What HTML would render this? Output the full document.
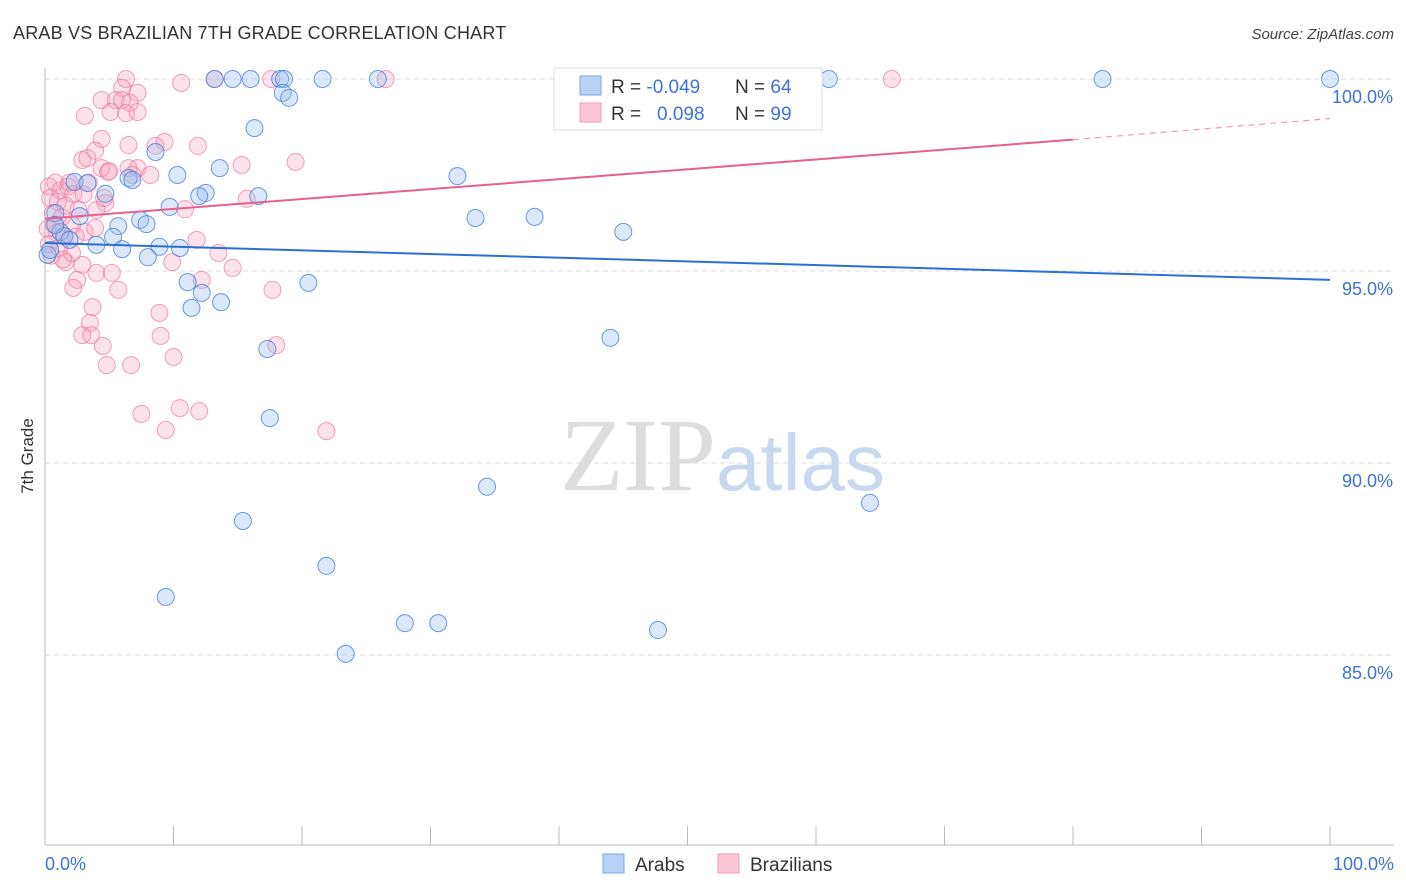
<!DOCTYPE html>
<html><head><meta charset="utf-8"><style>
body{margin:0;background:#fff;font-family:"Liberation Sans",sans-serif;}
</style></head><body>
<svg id="chart" width="1406" height="892" xmlns="http://www.w3.org/2000/svg" style="display:block">
<text x="13" y="39" font-size="18" fill="#333" letter-spacing="0.2">ARAB VS BRAZILIAN 7TH GRADE CORRELATION CHART</text>
<text x="1394" y="39" font-size="15" fill="#444" text-anchor="end" font-style="italic">Source: ZipAtlas.com</text>
<text x="716" y="490" font-size="104" text-anchor="end" fill="#ddd" font-family="Liberation Serif,serif">ZIP</text>
<text x="716" y="490" font-size="80" fill="#c8d8ee">atlas</text>
<text transform="translate(33,456) rotate(-90)" font-size="17" fill="#333" text-anchor="middle">7th Grade</text>
<g id="grid"></g><g id="axes"></g><g id="pts"></g><g id="lines"></g>
<g>
<rect x="554" y="68" width="268" height="62" fill="#fff" stroke="#ddd"/>
<rect x="580" y="76" width="21" height="19" fill="#b8d2f5" stroke="#7aa7e6"/>
<rect x="580" y="103" width="21" height="19" fill="#fcc8d8" stroke="#f09ab5"/>
<text x="611" y="93" font-size="19" fill="#333">R = <tspan fill="#3b74d6">-0.049</tspan></text>
<text x="735" y="93" font-size="19" fill="#333">N = <tspan fill="#3b74d6">64</tspan></text>
<text x="611" y="120" font-size="19" fill="#333">R = <tspan fill="#3b74d6" x="657">0.098</tspan></text>
<text x="735" y="120" font-size="19" fill="#333">N = <tspan fill="#3b74d6">99</tspan></text>
</g>
<g>
<rect x="603" y="854" width="21" height="19" fill="#b8d2f5" stroke="#7aa7e6"/>
<text x="635" y="871" font-size="19" fill="#333">Arabs</text>
<rect x="718" y="854" width="21" height="19" fill="#fcc8d8" stroke="#f09ab5"/>
<text x="750" y="871" font-size="19" fill="#333">Brazilians</text>
</g>
</svg>
<script>
const yTicks=[100,95,90,85];
const xTickLabels=["0.0%","100.0%"];
const arabX=[13.2,14.6,16.0,18.3,18.6,21.6,25.9,47.1,61.0,82.3,100,18.5,19.0,16.3,8.6,13.6,10.3,32.1,2.3,3.3,6.5,6.8,4.7,12.5,12.0,16.6,9.7,33.5,38.1,0.8,2.7,7.4,5.7,7.9,45.0,1.2,1.5,5.3,4.0,6.0,8.9,10.5,8.0,0.2,11.1,20.5,12.2,13.7,11.4,17.3,44.0,17.5,34.4,64.2,15.4,21.9,9.4,28.0,30.6,47.7,23.4,0.8,0.4,1.9];
const arabY=[100,100,100,100,100,100,100,100,100,100,100,99.64,99.51,98.72,98.10,97.68,97.50,97.47,97.32,97.29,97.42,97.37,97.01,97.03,96.95,96.95,96.67,96.38,96.41,96.51,96.43,96.33,96.17,96.22,96.02,96.02,95.91,95.89,95.68,95.57,95.63,95.60,95.36,95.42,94.71,94.69,94.43,94.19,94.04,92.97,93.26,91.17,89.38,88.96,88.49,87.32,86.51,85.83,85.83,85.65,85.03,96.2,95.55,95.81];
const brazX=[6.3,10.6,13.2,17.6,26.5,65.9,6.0,7.2,4.4,5.5,6.6,6.0,5.1,6.3,7.2,3.1,4.4,6.5,8.6,9.3,11.9,3.9,2.9,3.3,15.3,19.5,4.4,4.9,6.5,7.2,8.2,6.8,15.7,4.7,4.0,10.9,3.1,3.9,11.8,13.5,9.9,14.6,12.2,17.7,2.9,1.6,2.1,4.0,5.2,2.5,2.2,5.7,3.7,8.9,3.5,2.9,3.6,4.5,9.0,18.0,4.8,6.7,10.0,7.5,10.5,12.0,9.4,21.9,0.3,0.8,1.2,1.8,2.2,0.4,1.0,1.6,0.6,1.3,2.1,0.2,0.9,1.5,0.3,1.1,0.5,2.6,3.0,1.9,2.4,0.7,3.4,5.0,1.4,4.6];
const brazY=[100,99.9,100,100,100,100,99.77,99.64,99.45,99.45,99.38,99.45,99.14,99.11,99.14,99.04,98.44,98.28,98.26,98.36,98.26,98.13,97.89,97.94,97.76,97.84,97.68,97.58,97.68,97.68,97.50,97.50,96.88,96.77,96.59,96.61,96.02,96.12,95.81,95.47,95.23,95.08,94.77,94.51,95.16,95.23,95.47,94.95,94.95,94.77,94.56,94.51,94.06,93.91,93.65,93.33,93.33,93.05,93.31,93.07,92.55,92.55,92.76,91.28,91.43,91.35,90.86,90.83,97.2,97.3,97.1,97.2,97.0,96.9,96.8,96.7,96.5,96.4,96.2,96.1,96.0,95.9,95.7,95.6,95.4,96.6,97.0,97.3,95.9,96.2,97.3,97.6,95.3,96.9];
const arabTrend=[95.73,94.77];
const brazTrend=[96.36,98.42,98.97];
const brazTrendSolidEnd=80;
const NS="http://www.w3.org/2000/svg";
const sx=v=>45+v*12.85, sy=v=>79+(100-v)*38.4;
function mk(tag,attrs,parent){const e=document.createElementNS(NS,tag);for(const k in attrs)e.setAttribute(k,attrs[k]);parent.appendChild(e);return e;}
const grid=document.getElementById('grid'),axes=document.getElementById('axes'),pts=document.getElementById('pts'),lines=document.getElementById('lines');
yTicks.forEach(t=>{
 const l=mk('line',{x1:45,x2:1394,y1:sy(t),y2:sy(t),stroke:'#ddd','stroke-dasharray':'5,4'},grid);
 
 
 const tx=mk('text',{x:1393,y:sy(t)+24,'font-size':18,fill:'#3b74d6','text-anchor':'end'},grid);
 tx.textContent=t.toFixed(1)+'%';
 
 
});
const ya=mk('line',{x1:45,x2:45,y1:68,y2:845,stroke:'#bbb'},axes);


const xa=mk('line',{x1:45,x2:1394,y1:845,y2:845,stroke:'#bbb'},axes);


for(let i=0;i<=10;i++){const t=mk('line',{x1:sx(i*10),x2:sx(i*10),y1:826,y2:845,stroke:'#bbb'},axes);
 
 }
[[0,'start',45],[1,'end',1394]].forEach(([i,a,x])=>{const t=mk('text',{x:x,y:870,'font-size':18,fill:'#3b74d6','text-anchor':a},axes);t.textContent=xTickLabels[i];
 
 });
brazX.forEach((v,i)=>{const c=mk('circle',{cx:sx(v),cy:sy(brazY[i]),r:8.5,fill:'rgba(245,160,190,0.3)',stroke:'rgba(236,120,160,0.7)','stroke-width':1},pts);
 
 });
arabX.forEach((v,i)=>{const c=mk('circle',{cx:sx(v),cy:sy(arabY[i]),r:8.5,fill:'rgba(150,190,240,0.35)',stroke:'rgba(70,130,215,0.8)','stroke-width':1},pts);
 
 });
const bl=mk('line',{x1:sx(0),y1:sy(arabTrend[0]),x2:sx(100),y2:sy(arabTrend[1]),stroke:'#2a6fd6','stroke-width':2},lines);


const pl=mk('line',{x1:sx(0),y1:sy(brazTrend[0]),x2:sx(brazTrendSolidEnd),y2:sy(brazTrend[1]),stroke:'#e8608e','stroke-width':2},lines);


const pd=mk('line',{x1:sx(brazTrendSolidEnd),y1:sy(brazTrend[1]),x2:sx(100),y2:sy(brazTrend[2]),stroke:'#f09ab5','stroke-width':1.2,'stroke-dasharray':'6,5'},lines);


</script>
</body></html>
